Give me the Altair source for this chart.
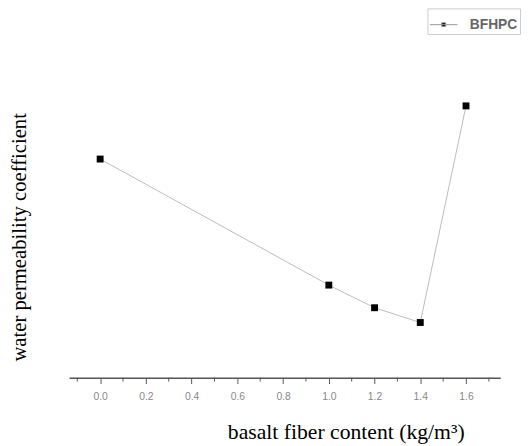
import altair as alt
import pandas as pd

fiber = [0.0, 1.0, 1.2, 1.4, 1.6]
perm = [222, 94, 71, 56, 276]
series = ["BFHPC"] * 5
major_ticks = [0.0, 0.2, 0.4, 0.6, 0.8, 1.0, 1.2, 1.4, 1.6]
minor_ticks = [-0.1, 0.1, 0.3, 0.5, 0.7, 0.9, 1.1, 1.3, 1.5, 1.7]

df = pd.DataFrame({"fiber": fiber, "perm": perm, "series": series})
df_minor = pd.DataFrame({"t": minor_ticks})

xs = alt.Scale(domain=[-0.136, 1.75], nice=False, zero=False)
ys = alt.Scale(domain=[0, 300], nice=False)

x_axis = alt.Axis(
    title="basalt fiber content (kg/m³)",
    values=major_ticks,
    format=".1f",
    labelOverlap=False,
    tickSize=6,
    tickColor="#555",
    tickWidth=1,
    domainColor="#555",
    domainWidth=1.5,
    labelColor="#888",
    labelFont="Liberation Sans",
    labelFontSize=10.5,
    labelPadding=8,
    grid=False,
    titleFont="Liberation Serif",
    titleFontSize=22,
    titleFontWeight="normal",
    titleColor="#000",
    titleX=281,
    titleY=62,
    titleAlign="center",
    titleBaseline="alphabetic",
)

y_axis = alt.Axis(
    title="water permeability coefficient",
    domain=False,
    ticks=False,
    labels=False,
    grid=False,
    titleFont="Liberation Serif",
    titleFontSize=21,
    titleFontWeight="normal",
    titleColor="#000",
    titleAngle=-90,
    titleX=-44,
    titleY=157,
    titleAlign="center",
    titleBaseline="alphabetic",
)

base = alt.Chart(df)

line = base.mark_line(color="#bbbbbb", strokeWidth=1).encode(
    x=alt.X("fiber:Q", scale=xs, axis=x_axis),
    y=alt.Y("perm:Q", scale=ys, axis=y_axis),
)

minor = alt.Chart(df_minor).mark_rule(color="#555", strokeWidth=1).encode(
    x=alt.X("t:Q", scale=xs),
    y=alt.value(300),
    y2=alt.value(304),
)

pts = base.mark_square(size=49, opacity=1, filled=True).encode(
    x=alt.X("fiber:Q", scale=xs),
    y=alt.Y("perm:Q", scale=ys),
    color=alt.Color(
        "series:N",
        scale=alt.Scale(range=["#000000"]),
        legend=alt.Legend(
            title=None,
            orient="none",
            legendX=364,
            legendY=-75,
            symbolType="M-1,0H1M-0.14,-0.14H0.14V0.14H-0.14Z",
            symbolSize=784,
            symbolStrokeColor="#999999",
            symbolStrokeWidth=1,
            strokeColor="#cccccc",
            padding=2,
            labelFont="Liberation Sans",
            labelFontSize=14,
            labelFontWeight="bold",
            labelColor="#666666",
            labelOffset=12,
        ),
    ),
)

chart = (
    alt.layer(line, minor, pts)
    .properties(
        width=438,
        height=300,
        background="white",
        autosize=alt.AutoSizeParams(type="none"),
        padding={"left": 62, "top": 72, "right": 21, "bottom": 66},
    )
    .configure_view(strokeWidth=0, stroke="transparent")
)

chart.save("out.html", embed_options={"renderer": "svg", "actions": False})
